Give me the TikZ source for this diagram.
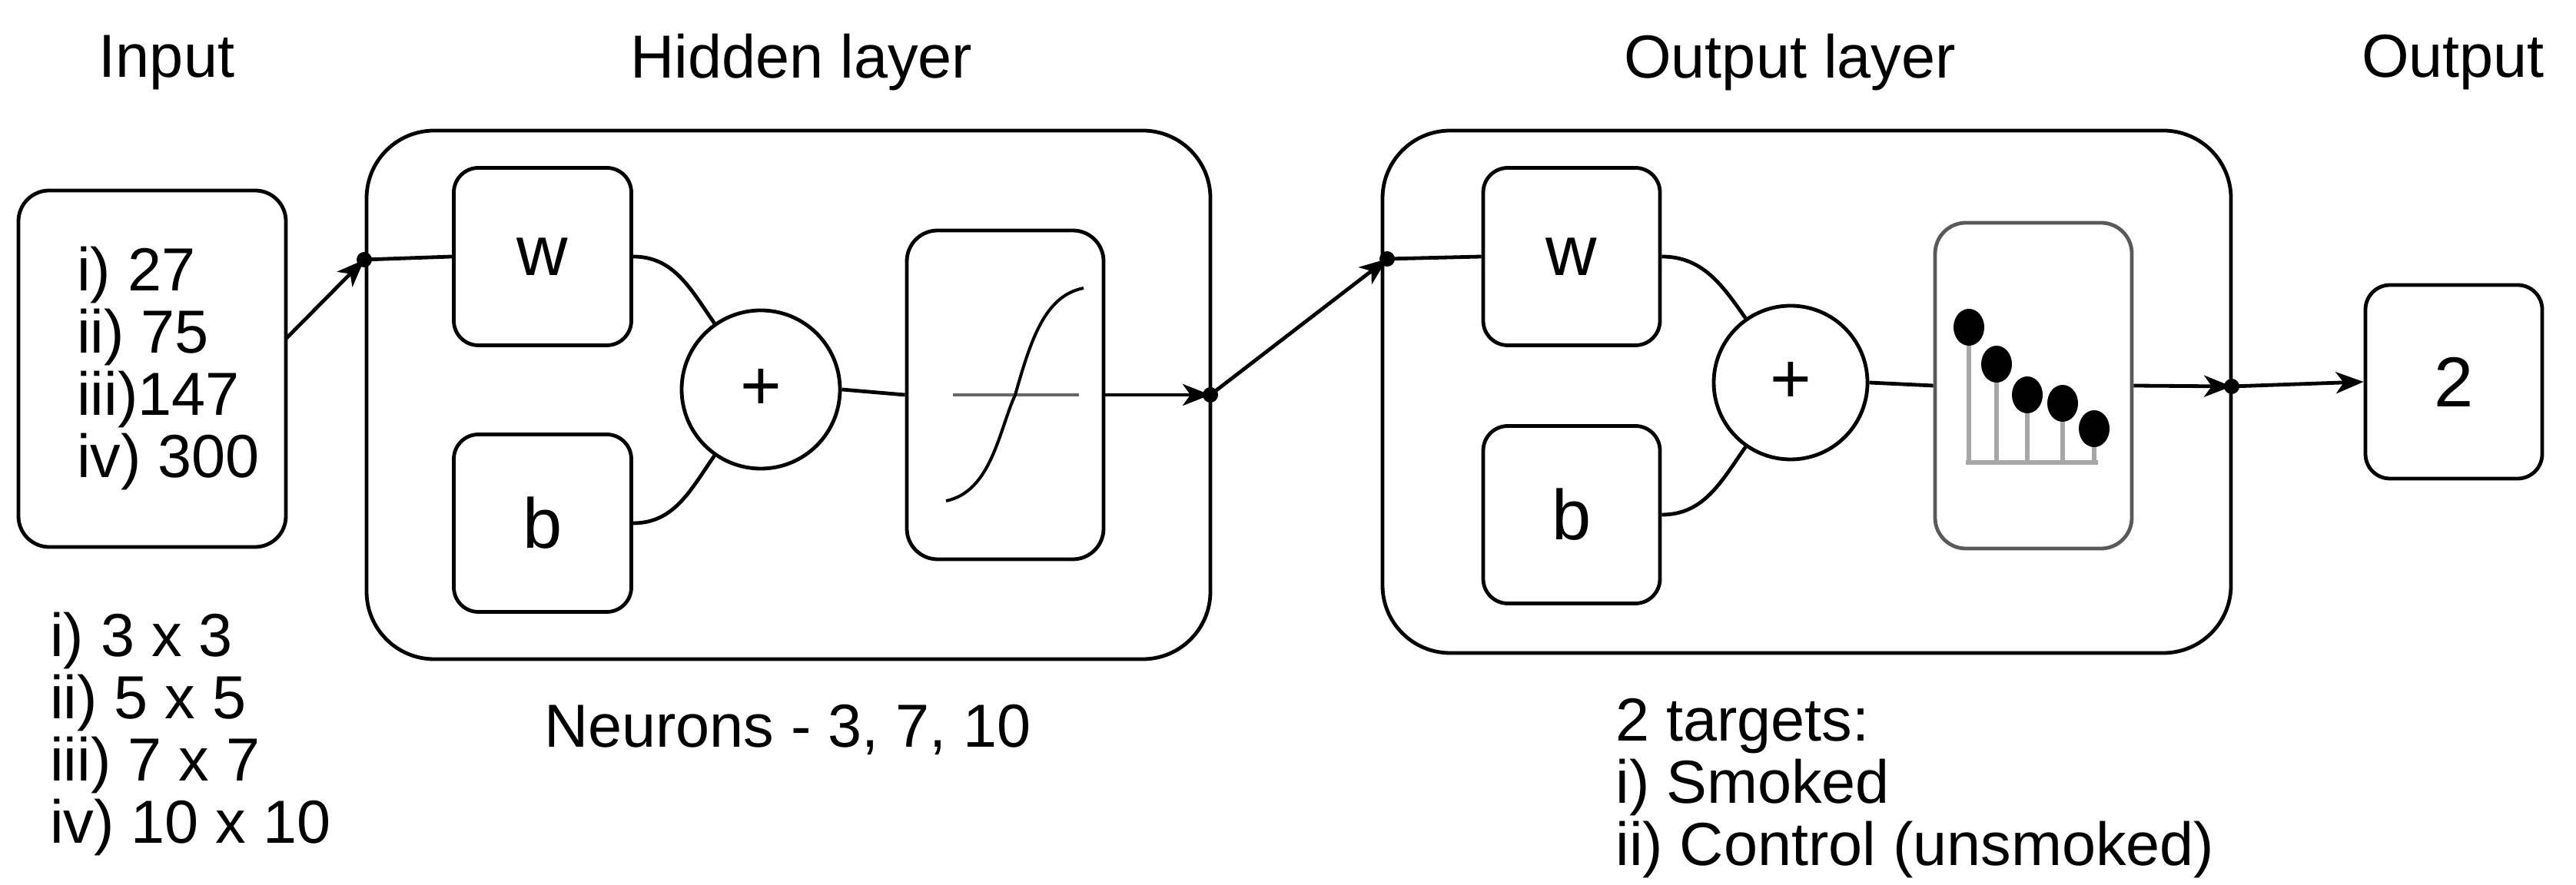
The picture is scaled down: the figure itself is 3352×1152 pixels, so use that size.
\documentclass[tikz,border=0pt]{standalone}
\usepackage{fontspec}
\setmainfont{Liberation Sans}
\usetikzlibrary{arrows.meta}
\begin{document}
\begin{tikzpicture}[x=0.25pt,y=-0.25pt,line width=1.2pt,
  box/.style={draw,rounded corners=#1,inner sep=0pt},
  txt/.style={font=\fontsize{19.8}{20.25}\selectfont,inner sep=0pt},
  big/.style={font=\fontsize{23}{24}\selectfont,inner sep=0pt},
  dot/.style={circle,fill,inner sep=0pt,minimum size=5pt},
  arr/.style={-{Stealth[length=9pt,width=7pt,inset=2.5pt]}},
  stem/.style={gray!70,line width=1.4pt}]
\useasboundingbox (0,0) rectangle (3352,1152);
% titles
\node[txt] (tIn) at (217,81) {Input};
\node[txt] (tHid) at (1043,81) {Hidden layer};
\node[txt] (tOutL) at (2329,81) {Output layer};
\node[txt] (tOut) at (3192,81) {Output};
% input
\node[box=10pt,minimum width=87pt,minimum height=116pt] (in) at (198,480) {};
\node[txt,anchor=west,align=left] (inT) at (98,480) {i) 27\\ii) 75\\iii)147\\iv) 300};
\node[txt,anchor=north west,align=left] (sizes) at (63,795) {i) 3 x 3\\ii) 5 x 5\\iii) 7 x 7\\iv) 10 x 10};
% hidden layer
\node[box=22pt,minimum width=274.5pt,minimum height=172pt] (hid) at (1026,514) {};
\node[box=8pt,big,minimum width=57.75pt,minimum height=57.75pt] (w1) at (706,334) {w};
\node[box=8pt,big,minimum width=57.75pt,minimum height=57.75pt] (b1) at (706,681) {b};
\node[draw,circle,big,minimum size=51.5pt] (c1) at (990,507) {+};
\node[box=10pt,minimum width=64pt,minimum height=107pt] (sig) at (1308,514) {};
\draw[gray!80!black,line width=1pt] (1240,514) -- (1404,514);
\draw[line width=1pt] (1231,652) .. controls (1290,640) and (1300,560) .. (1321,514)
  .. controls (1342,440) and (1360,385) .. (1410,375);
\node[txt,anchor=north] (neur) at (1025,915) {Neurons - 3, 7, 10};
% output layer
\node[box=22pt,minimum width=276pt,minimum height=170pt] (outl) at (2351,510) {};
\node[box=8pt,big,minimum width=57.5pt,minimum height=57.75pt] (w2) at (2045,334) {w};
\node[box=8pt,big,minimum width=57.5pt,minimum height=57.75pt] (b2) at (2045,670) {b};
\node[draw,circle,big,minimum size=50pt] (c2) at (2330,498) {+};
\node[box=10pt,draw=gray!70!black,minimum width=64pt,minimum height=106pt] (soft) at (2646,502) {};
\draw[stem] (2558,602) -- (2730,602);
\foreach \x/\y in {2562/426,2598/474,2638/514,2684/525,2725/558}{
  \draw[stem] (\x,602) -- (\x,\y);
  \fill (\x,\y) ellipse (5pt and 6pt);
}
\node[txt,anchor=north west,align=left] (targ) at (2100,907) {2 targets:\\i) Smoked\\ii) Control (unsmoked)};
% output
\node[box=8pt,big,minimum width=57.5pt,minimum height=63pt] (out) at (3193,497) {2};
% junctions
\node[dot] (d1) at (474,338) {};
\node[dot] (d2) at (1575,514) {};
\node[dot] (d3) at (1805,337) {};
\node[dot] (d4) at (2904,503) {};
\coordinate (inE) at (372,441);
% connectors
\draw[arr] (inE) -- (d1.center);
\draw (d1.center) -- (w1.west);
\draw (w1.east) to[out=0,in=125] (c1.125);
\draw (b1.east) to[out=0,in=-125] (c1.-125);
\draw (c1.east) -- (sig.west);
\draw[arr] (sig.east) -- (d2.center);
\draw[arr] (d2.center) -- (d3.center);
\draw (d3.center) -- (w2.west);
\draw (w2.east) to[out=0,in=125] (c2.125);
\draw (b2.east) to[out=0,in=-125] (c2.-125);
\draw (c2.east) -- (soft.west);
\draw[arr] (soft.east) -- (d4.center);
\draw[arr] (d4.center) -- (out.west);
\end{tikzpicture}
\end{document}
